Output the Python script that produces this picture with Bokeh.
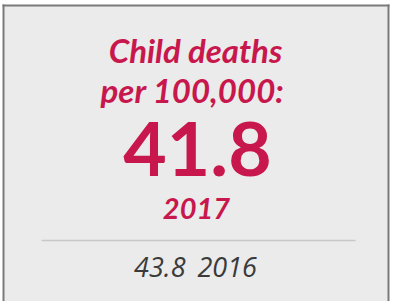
from bokeh.plotting import figure
from bokeh.models import Range1d
from bokeh.core.properties import value
from bokeh.embed import file_html
from bokeh.resources import INLINE

# data
title_lines = ["Child deaths", "per 100,000:"]
current_value = [41.8]
current_year = [2017]
previous_value = [43.8]
previous_year = [2016]

RED = "#c8174c"
GREY_TXT = "#3a3a3a"

p = figure(width=401, height=301, output_backend="svg", toolbar_location=None,
           x_range=Range1d(0, 401), y_range=Range1d(301, 0),
           min_border=0, outline_line_color=None)
p.axis.visible = False
p.grid.visible = False
p.background_fill_color = "white"
p.border_fill_color = "white"

# card background and border (left, top, right)
p.quad(left=[3], right=[388], top=[5], bottom=[301], fill_color="#ebebeb", line_color=None)
p.segment(x0=[3, 2, 388], y0=[4, 5, 4], x1=[3, 389, 388], y1=[301, 5, 301],
          line_color="#7a7a7a", line_width=2)

# title
p.text(x=[195, 192], y=[49, 89], text=title_lines, text_align="center",
       text_baseline="alphabetic", text_font=value("Lato"),
       text_font_style="bold italic", text_font_size="33px", text_color=RED)

# big value
p.text(x=[197], y=[148], text=[f"{v:.1f}" for v in current_value], text_align="center",
       text_baseline="alphabetic", text_font=value("Lato"),
       text_font_style="bold", text_font_size="75px", text_color=RED)

# year
p.text(x=[196], y=[208], text=[str(y) for y in current_year], text_align="center",
       text_baseline="alphabetic", text_font=value("Lato"),
       text_font_style="bold italic", text_font_size="29px", text_color=RED)

# separator
p.segment(x0=[41], y0=[240], x1=[355], y1=[240], line_color="#c8c8c8", line_width=1.5)

# previous value and year
p.text(x=[185], y=[266], text=[f"{v:.1f}" for v in previous_value],
       text_align="right", text_baseline="alphabetic", text_font=value("Open Sans"),
       text_font_style="italic", text_font_size="27px", text_color=GREY_TXT)
p.text(x=[197], y=[266], text=[str(y) for y in previous_year],
       text_align="left", text_baseline="alphabetic", text_font=value("Open Sans"),
       text_font_style="italic", text_font_size="27px", text_color=GREY_TXT)

open("out.html", "w").write(file_html(p, INLINE))
